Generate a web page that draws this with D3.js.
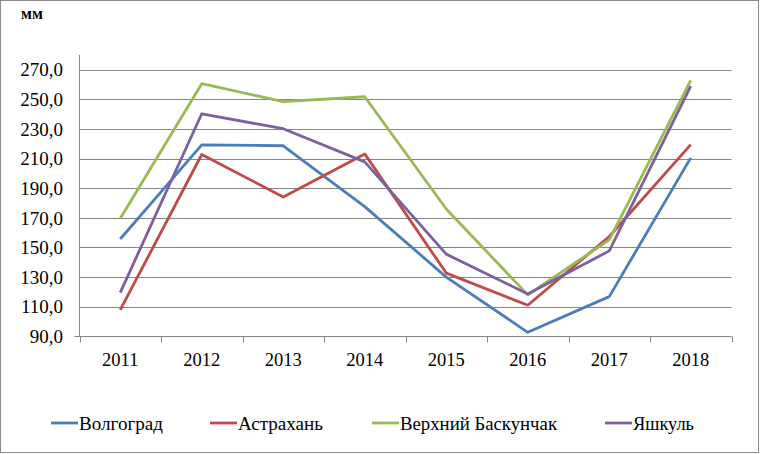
<!DOCTYPE html>
<html>
<head>
<meta charset="utf-8">
<script src="https://cdn.jsdelivr.net/npm/d3@7"></script>
<style>
  body { margin: 0; background: #fff; }
</style>
</head>
<body>
<svg id="svg" width="760" height="454"></svg>
<script>
"use strict";

const years = ["2011", "2012", "2013", "2014", "2015", "2016", "2017", "2018"];
const seriesNames = ["Волгоград", "Астрахань", "Верхний Баскунчак", "Яшкуль"];
const volgograd = [155.7, 219.3, 218.7, 177.6, 130.0, 92.7, 116.8, 210.5];
const astrakhan = [107.8, 212.8, 184.1, 213.2, 132.7, 111.0, 157.4, 219.5];
const baskunchak = [169.6, 260.6, 248.5, 251.8, 176.0, 118.0, 155.2, 262.9];
const yashkul = [119.5, 240.3, 230.2, 207.8, 145.5, 118.6, 147.7, 259.0];
const yTicks = [90, 110, 130, 150, 170, 190, 210, 230, 250, 270];
const colors = ["#4a7ebb", "#be4b48", "#98b954", "#7d60a0"];

const seriesValues = [volgograd, astrakhan, baskunchak, yashkul];
const serif = "'Liberation Serif'";

var svg = d3.select("svg");

// outer frame
svg.append("rect")
    .attr("x", 0.5).attr("y", 0.5)
    .attr("width", 758).attr("height", 452)
    .attr("fill", "none")
    .attr("stroke", "#8c8c8c");

var plotLeft = 79.5, plotRight = 731.5, plotTop = 55, plotBottom = 336.3;

var x = d3.scaleBand().domain(years).range([plotLeft, plotRight]).padding(0);
var y = d3.scaleLinear().domain([90, 280]).range([plotBottom, plotTop]);

// units label
svg.append("text")
    .attr("x", 21).attr("y", 19)
    .style("font-family", serif)
    .style("font-size", "16px")
    .style("font-weight", "bold")
    .text("мм");

// gridlines
svg.append("g")
    .selectAll("line")
    .data(yTicks.slice(1))
    .enter()
    .append("line")
        .attr("x1", plotLeft).attr("x2", plotRight)
        .attr("y1", d => Math.round(y(d)) + 0.5)
        .attr("y2", d => Math.round(y(d)) + 0.5)
        .attr("stroke", "#868686")
        .attr("stroke-width", 1);

// y axis line
svg.append("line")
    .attr("x1", plotLeft).attr("x2", plotLeft)
    .attr("y1", plotTop).attr("y2", plotBottom)
    .attr("stroke", "#868686");

// y labels
svg.append("g")
    .selectAll("text")
    .data(yTicks)
    .enter()
    .append("text")
        .attr("x", 63)
        .attr("y", d => y(d))
        .attr("dy", "0.35em")
        .attr("text-anchor", "end")
        .style("font-family", serif)
        .style("font-size", "19px")
        .text(d => d3.format(".1f")(d).replace(".", ","));

// x axis line and ticks at category edges
svg.append("line")
    .attr("x1", plotLeft - 5).attr("x2", plotRight)
    .attr("y1", Math.round(plotBottom) + 0.5).attr("y2", Math.round(plotBottom) + 0.5)
    .attr("stroke", "#868686");

svg.append("g")
    .selectAll("line")
    .data(years.concat(["end"]))
    .enter()
    .append("line")
        .attr("x1", (d, i) => Math.round(plotLeft + i * x.step()) + 0.5)
        .attr("x2", (d, i) => Math.round(plotLeft + i * x.step()) + 0.5)
        .attr("y1", plotBottom)
        .attr("y2", plotBottom + 6)
        .attr("stroke", "#868686");

svg.append("g")
    .selectAll("text")
    .data(years)
    .enter()
    .append("text")
        .attr("x", d => x(d) + x.bandwidth() / 2)
        .attr("y", 359.5)
        .attr("dy", "0.35em")
        .attr("text-anchor", "middle")
        .style("font-family", serif)
        .style("font-size", "18.5px")
        .text(d => d);

// series lines
var line = d3.line()
    .x((d, i) => x(years[i]) + x.bandwidth() / 2)
    .y(d => y(d));

svg.append("g")
    .selectAll("path")
    .data(seriesValues)
    .enter()
    .append("path")
        .attr("d", d => line(d))
        .attr("fill", "none")
        .attr("stroke", (d, i) => colors[i])
        .attr("stroke-width", 2.8)
        .attr("stroke-linejoin", "round");

// legend (text widths squeezed as in the original)
const legendX = [51, 210, 372, 605];
const legendTextWidth = [84, 85, 157, 61];
var legend = svg.append("g")
    .selectAll("g")
    .data(seriesNames)
    .enter()
    .append("g")
        .attr("transform", (d, i) => "translate(" + legendX[i] + ",423)");

legend.append("line")
    .attr("x1", 0).attr("x2", 27)
    .attr("y1", 0).attr("y2", 0)
    .attr("stroke", (d, i) => colors[i])
    .attr("stroke-width", 2.8);

legend.append("text")
    .attr("x", 28)
    .attr("dy", "0.35em")
    .attr("textLength", (d, i) => legendTextWidth[i])
    .attr("lengthAdjust", "spacingAndGlyphs")
    .style("font-family", serif)
    .style("font-size", "19.5px")
    .text(d => d);
</script>
</body>
</html>
